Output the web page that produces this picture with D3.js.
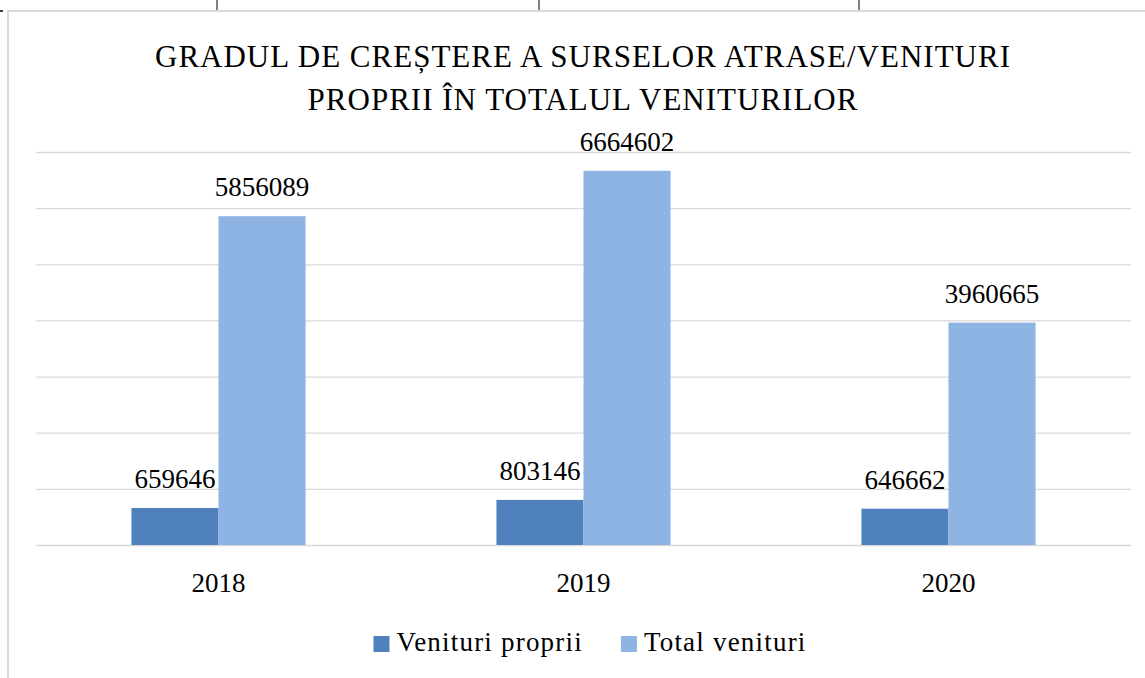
<!DOCTYPE html>
<html>
<head>
<meta charset="utf-8">
<script src="https://cdn.jsdelivr.net/npm/d3@7"></script>
<style>
  body { margin: 0; background: #ffffff; }
  text { font-family: "Liberation Serif", "Times New Roman", serif; fill: #000000; }
</style>
</head>
<body>
<div id="chart"></div>
<script>
// data
var years = ["2018", "2019", "2020"];
var seriesNames = ["Venituri proprii", "Total venituri"];
var venituriProprii = [659646, 803146, 646662];
var totalVenituri = [5856089, 6664602, 3960665];
var gridTicks = [0, 1000000, 2000000, 3000000, 4000000, 5000000, 6000000, 7000000];
var titleLines = ["GRADUL DE CREȘTERE A SURSELOR ATRASE/VENITURI", "PROPRII ÎN TOTALUL VENITURILOR"];

function createChart(divId) {
  var width = 1145;
  var height = 678;
  var colors = ["#4f81bd", "#8eb4e3"];

  // 0. svg
  var svg = d3.select("#" + divId).append("svg")
    .attr("width", width)
    .attr("height", height);

  svg.append("rect").attr("width", width).attr("height", height).attr("fill", "#ffffff");

  // table lines above the chart (from the document the chart sits in)
  svg.selectAll("line.tbl").data([217, 539, 859])
    .enter().append("line")
    .attr("class", "tbl")
    .attr("x1", function (d) { return d; }).attr("x2", function (d) { return d; })
    .attr("y1", 0).attr("y2", 10)
    .attr("stroke", "#000000").attr("stroke-width", 1);
  svg.append("line").attr("x1", 0).attr("x2", 3).attr("y1", 11).attr("y2", 11)
    .attr("stroke", "#000000").attr("stroke-width", 1.5);

  // chart border
  svg.append("rect")
    .attr("x", 8).attr("y", 11)
    .attr("width", 1160).attr("height", 700)
    .attr("fill", "none")
    .attr("stroke", "#d9d9d9").attr("stroke-width", 2);

  // 1. title
  svg.append("g").selectAll("text").data(titleLines)
    .enter().append("text")
    .attr("x", 583)
    .attr("y", function (d, i) { return 67 + i * 43; })
    .attr("text-anchor", "middle")
    .style("font-size", "31px")
    .style("letter-spacing", "1px")
    .text(function (d) { return d; });

  // 2. scales
  var plotLeft = 36, plotRight = 1131;
  var x0 = d3.scaleBand()
    .domain(years)
    .range([plotLeft, plotRight])
    .paddingInner(0.523)
    .paddingOuter(0.2615);
  var x1 = d3.scaleBand()
    .domain(seriesNames)
    .range([0, x0.bandwidth()]);
  var y = d3.scaleLinear()
    .domain([0, 7000000])
    .range([545, 152]);

  // 3. gridlines
  var grid = svg.append("g")
    .attr("transform", "translate(" + plotLeft + ",0)")
    .call(d3.axisLeft(y).tickValues(gridTicks).tickSize(-(plotRight - plotLeft)).tickFormat(""));
  grid.select(".domain").remove();
  grid.selectAll(".tick line").attr("stroke", "#d9d9d9").attr("stroke-width", 1.3);

  // 4. bars
  var rows = years.map(function (yr, i) {
    return { year: yr, values: [
      { name: seriesNames[0], value: venituriProprii[i], color: colors[0] },
      { name: seriesNames[1], value: totalVenituri[i], color: colors[1] }
    ] };
  });

  var groups = svg.selectAll("g.year").data(rows)
    .enter().append("g")
    .attr("class", "year")
    .attr("transform", function (d) { return "translate(" + x0(d.year) + ",0)"; });

  groups.selectAll("rect").data(function (d) { return d.values; })
    .enter().append("rect")
    .attr("x", function (d) { return x1(d.name); })
    .attr("y", function (d) { return y(d.value); })
    .attr("width", x1.bandwidth())
    .attr("height", function (d) { return y(0) - y(d.value); })
    .attr("fill", function (d) { return d.color; });

  // 5. value labels
  groups.selectAll("text.val").data(function (d) { return d.values; })
    .enter().append("text")
    .attr("class", "val")
    .attr("x", function (d) { return x1(d.name) + x1.bandwidth() / 2; })
    .attr("y", function (d) { return y(d.value) - 20; })
    .attr("text-anchor", "middle")
    .style("font-size", "27px")
    .text(function (d) { return d.value; });

  // 6. category axis
  var xAxis = svg.append("g")
    .attr("transform", "translate(0,545)")
    .call(d3.axisBottom(x0).tickSize(0).tickPadding(0));
  xAxis.select(".domain").remove();
  xAxis.selectAll("text")
    .attr("dy", null)
    .attr("y", 47)
    .style("font-size", "27px");

  // 7. legend
  var legend = svg.append("g");
  var items = legend.selectAll("g").data(seriesNames).enter().append("g");
  items.append("rect")
    .attr("width", 16).attr("height", 16)
    .attr("y", -15)
    .attr("fill", function (d, i) { return colors[i]; });
  items.append("text")
    .attr("x", 23)
    .style("font-size", "27px")
    .style("letter-spacing", "1.2px")
    .text(function (d) { return d; });
  var offset = 0;
  items.each(function () {
    d3.select(this).attr("transform", "translate(" + offset + ",0)");
    offset += this.getBBox().width + 38;
  });
  var legendWidth = offset - 38;
  legend.attr("transform", "translate(" + (590 - legendWidth / 2) + ",651)");
}

createChart("chart");
</script>
</body>
</html>
